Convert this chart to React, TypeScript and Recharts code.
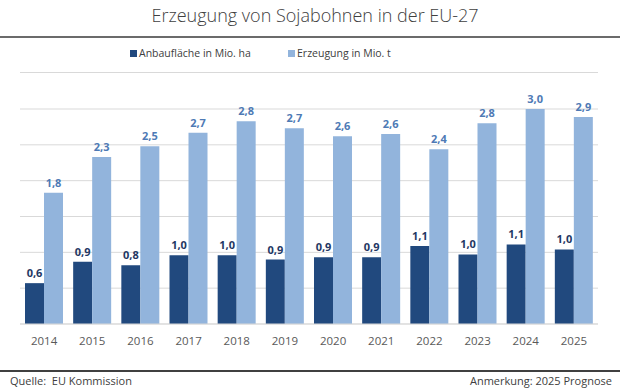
import { BarChart, Bar, XAxis, YAxis, CartesianGrid, LabelList } from 'recharts';

// Werte (EU Kommission, 2025 Prognose)
const years = ['2014', '2015', '2016', '2017', '2018', '2019', '2020', '2021', '2022', '2023', '2024', '2025'];
const anbauflaeche = [0.57, 0.87, 0.82, 0.96, 0.96, 0.9, 0.93, 0.93, 1.09, 0.97, 1.11, 1.04];
const erzeugung = [1.83, 2.33, 2.48, 2.67, 2.83, 2.73, 2.62, 2.65, 2.44, 2.8, 3.0, 2.89];
const yTicks = [0, 0.5, 1, 1.5, 2, 2.5, 3];

const data = years.map((year, i) => ({
  year,
  flaeche: anbauflaeche[i],
  erzeugung: erzeugung[i],
}));

const DARK = '#21497e';
const LIGHT = '#92b4dc';
const font = '"Open Sans", sans-serif';

const fmt = (v: any) => Number(v).toFixed(1).replace('.', ',');

export default function App() {
  return (
    <div
      style={{
        position: 'absolute',
        left: 0,
        top: 0,
        width: 620,
        height: 392,
        background: '#fff',
        fontFamily: font,
        overflow: 'hidden',
      }}
    >
      <div
        style={{
          position: 'absolute',
          top: 3,
          left: 0,
          width: 630,
          textAlign: 'center',
          fontSize: 18,
          fontWeight: 300,
          color: '#404040',
        }}
      >
        Erzeugung von Sojabohnen in der EU-27
      </div>
      <div style={{ position: 'absolute', top: 36, left: 0, width: 620, height: 2, background: '#6b6b6b' }} />

      {/* Legende */}
      <div style={{ position: 'absolute', top: 46, left: 130, fontSize: 10.5, color: '#404040', display: 'flex', alignItems: 'center' }}>
        <span style={{ display: 'inline-block', width: 7, height: 7, background: DARK, marginRight: 2 }} />
        Anbaufläche in Mio. ha
      </div>
      <div style={{ position: 'absolute', top: 46, left: 288, fontSize: 10.5, color: '#404040', display: 'flex', alignItems: 'center' }}>
        <span style={{ display: 'inline-block', width: 7, height: 7, background: LIGHT, marginRight: 2 }} />
        Erzeugung in Mio. t
      </div>
      <div style={{ position: 'absolute', top: 72, left: 20, width: 578, height: 1, background: '#d9d9d9' }} />

      <div style={{ position: 'absolute', top: 0, left: 0 }}>
        <BarChart
          width={620}
          height={392}
          data={data}
          margin={{ top: 109, right: 22, left: 20, bottom: 38 }}
          barGap={0}
          barSize={19}
        >
          <CartesianGrid vertical={false} stroke="#d9d9d9" />
          <YAxis hide domain={[0, 3]} ticks={yTicks} />
          <XAxis
            dataKey="year"
            height={30}
            axisLine={{ stroke: '#d9d9d9' }}
            tickLine={false}
            tick={{ fill: '#595959', fontSize: 11.5, fontFamily: font }}
            tickMargin={7}
          />
          <Bar dataKey="flaeche" fill={DARK} isAnimationActive={false}>
            <LabelList
              dataKey="flaeche"
              position="top"
              offset={6}
              formatter={fmt}
              style={{ fill: '#1f3864', fontSize: 11, fontWeight: 700, fontFamily: font }}
            />
          </Bar>
          <Bar dataKey="erzeugung" fill={LIGHT} isAnimationActive={false}>
            <LabelList
              dataKey="erzeugung"
              position="top"
              offset={6}
              formatter={fmt}
              style={{ fill: '#4e7ab5', fontSize: 11, fontWeight: 700, fontFamily: font }}
            />
          </Bar>
        </BarChart>
      </div>

      {/* Fußzeile */}
      <div style={{ position: 'absolute', top: 370, left: 0, width: 620, height: 1.5, background: '#404040' }} />
      <div style={{ position: 'absolute', top: 373, left: 10, fontSize: 11, color: '#404040', whiteSpace: 'pre' }}>
        Quelle:  EU Kommission
      </div>
      <div style={{ position: 'absolute', top: 373, right: 8, fontSize: 11, color: '#404040' }}>
        Anmerkung: 2025 Prognose
      </div>
    </div>
  );
}
